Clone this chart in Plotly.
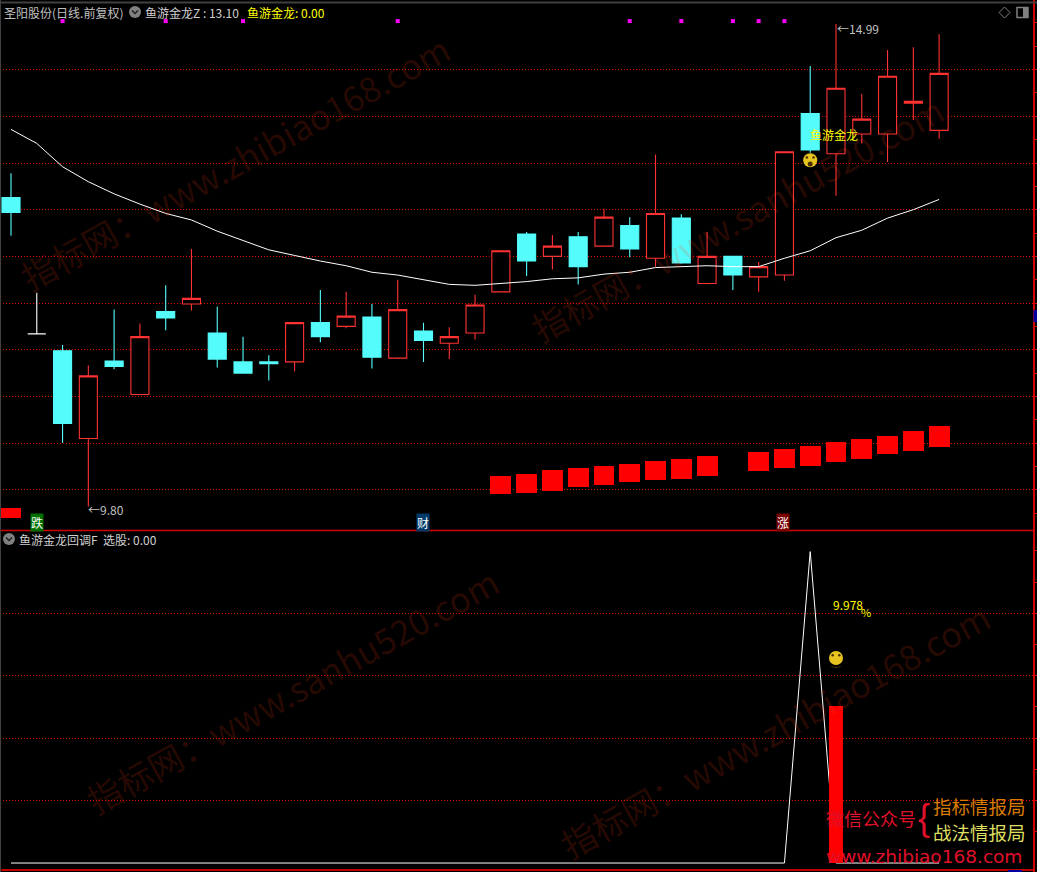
import plotly.graph_objects as go

W, H = 1037, 872
idx = list(range(37))
opens  = [13.13,11.67,11.49,10.55,11.38,11.02,11.91,11.99,11.68,11.37,11.37,11.37,11.79,11.75,11.85,11.41,11.70,11.57,11.68,12.12,12.74,12.50,12.71,12.61,12.83,12.48,12.91,12.21,12.50,12.28,12.30,14.03,13.60,13.81,13.81,14.14,13.85]
closes = [12.97,11.67,10.71,11.22,11.32,11.64,11.84,12.05,11.40,11.25,11.35,11.79,11.64,11.86,11.42,11.93,11.60,11.64,11.98,12.56,12.45,12.61,12.39,12.92,12.58,12.96,12.43,12.50,12.30,12.39,13.62,13.64,14.30,13.97,14.43,14.16,14.46]
highs  = [13.39,12.11,11.55,11.33,11.93,11.78,12.19,12.58,11.96,11.64,11.44,11.79,12.14,12.12,11.99,12.25,11.79,11.74,12.09,12.56,12.76,12.73,12.76,13.01,12.92,13.59,12.95,12.76,12.50,12.44,13.62,14.54,14.99,14.24,14.71,14.74,14.88]
lows   = [12.72,11.67,10.50,9.82,11.29,11.02,11.71,11.92,11.31,11.25,11.17,11.27,11.58,11.73,11.30,11.40,11.37,11.40,11.61,12.12,12.29,12.36,12.20,12.61,12.49,12.39,12.42,12.21,12.14,12.12,12.24,13.61,13.15,13.71,13.51,13.96,13.76]
ma_line = [13.86,13.71,13.46,13.30,13.17,13.06,12.96,12.89,12.77,12.67,12.57,12.51,12.45,12.40,12.33,12.30,12.25,12.20,12.19,12.21,12.23,12.26,12.27,12.31,12.33,12.38,12.39,12.40,12.39,12.39,12.48,12.56,12.70,12.78,12.91,13.00,13.11]

block_idx    = [0,19,20,21,22,23,24,25,26,27,29,30,31,32,33,34,35,36]
block_top    = [9.80,10.15,10.17,10.21,10.23,10.26,10.28,10.31,10.33,10.36,10.40,10.44,10.47,10.51,10.54,10.58,10.63,10.68]
block_bottom = [9.70,9.95,9.97,9.99,10.03,10.05,10.08,10.10,10.12,10.15,10.20,10.23,10.26,10.30,10.33,10.38,10.42,10.46]

flag_idx = [2,6,9,15,24,26,28,29,30]
flag_price = [15.02]*len(flag_idx)

sub_line = [0]*31 + [9.978] + [0]*5
sub_bar_idx = [32]
sub_bar_val = [5.02]

main_grid = [10,10.5,11,11.5,12,12.5,13,13.5,14,14.5]
main_minor = [9.75,10.25,10.75,11.25,11.75,12.25,12.75,13.25,13.75,14.25,14.75,15]
sub_grid = [2,4,6,8]
sub_minor = [1,3,5,7,9,10]

RED='#ff3232'; CYAN='#54fcfc'; GRID='#dc0000'; GREY='#c0c0c0'; YEL='#ffff00'
FACE='#e8c420'; FEAT='#4a3000'
FONT='Noto Sans CJK SC'
def px(x): return x/W
def py(y): return 1-y/H

fig = go.Figure()
keep = [i for i in idx if i != 1]
fig.add_trace(go.Bar(x=block_idx, y=[t-b for t,b in zip(block_top,block_bottom)], base=block_bottom,
                     width=0.81, marker=dict(color='#ff0000', line=dict(width=0)), xaxis='x', yaxis='y'))
fig.add_trace(go.Candlestick(x=keep, open=[opens[i] for i in keep], high=[highs[i] for i in keep],
    low=[lows[i] for i in keep], close=[closes[i] for i in keep], whiskerwidth=0,
    increasing=dict(line=dict(color=RED,width=1.1), fillcolor='#000000'),
    decreasing=dict(line=dict(color=CYAN,width=1.1), fillcolor=CYAN), xaxis='x', yaxis='y'))
fig.add_trace(go.Candlestick(x=[1], open=[opens[1]], high=[highs[1]], low=[lows[1]], close=[closes[1]], whiskerwidth=0,
    increasing=dict(line=dict(color='#ffffff',width=1.1), fillcolor='#ffffff'),
    decreasing=dict(line=dict(color='#ffffff',width=1.1), fillcolor='#ffffff'), xaxis='x', yaxis='y'))
fig.add_trace(go.Scatter(x=idx, y=ma_line, mode='lines', line=dict(color='#ffffff',width=1), xaxis='x', yaxis='y'))
fig.add_trace(go.Scatter(x=flag_idx, y=flag_price, mode='markers', marker=dict(symbol='square',size=4,color='#ff00ff'), xaxis='x', yaxis='y'))
# surprised face: disc, eyes, open mouth
fig.add_trace(go.Scatter(x=[31], y=[13.53], mode='markers', marker=dict(size=14,color=FACE), xaxis='x', yaxis='y'))
fig.add_trace(go.Scatter(x=[30.87,31.13], y=[13.56,13.56], mode='markers', marker=dict(size=2.5,color=FEAT), xaxis='x', yaxis='y'))
fig.add_trace(go.Scatter(x=[31], y=[13.49], mode='markers', marker=dict(size=5,color=FEAT), xaxis='x', yaxis='y'))

fig.add_trace(go.Scatter(x=idx, y=sub_line, mode='lines', line=dict(color='#ffffff',width=1), xaxis='x2', yaxis='y2'))
fig.add_trace(go.Scatter(x=[32], y=[6.57], mode='markers', marker=dict(size=14,color=FACE), xaxis='x2', yaxis='y2'))
fig.add_trace(go.Scatter(x=[31.87,32.13], y=[6.66,6.66], mode='markers', marker=dict(size=2.5,color=FEAT), xaxis='x2', yaxis='y2'))
fig.add_trace(go.Scatter(x=[32], y=[6.42], mode='text', text=['‿'], textfont=dict(size=11,color=FEAT,family='DejaVu Sans'), xaxis='x2', yaxis='y2'))
# the bar sits on its own overlaying axis pair so that it paints over the white line
fig.add_trace(go.Bar(x=sub_bar_idx, y=sub_bar_val, width=0.58, marker=dict(color='#ff0000', line=dict(width=0)), xaxis='x3', yaxis='y3'))

xr = [-0.4267, 39.63]
xdom = [0, 1032.7/W]
split = (H-530.5)/H
ax_common = dict(showgrid=False, zeroline=False, showticklabels=False, ticks='', range=xr, domain=xdom, fixedrange=True)
def yax(rng, dom, grid, minor):
    return dict(range=rng, domain=dom, side='right', tickmode='array', tickvals=grid, showticklabels=False,
        ticks='outside', ticklen=5, tickcolor='#d00000', tickwidth=1, showgrid=True, gridcolor=GRID, griddash='1px,2px', gridwidth=1,
        minor=dict(tickmode='array', tickvals=minor, ticks='outside', ticklen=5, tickcolor='#d00000', tickwidth=1, showgrid=False),
        zeroline=False, showline=True, linecolor='#d00000', linewidth=1.5, fixedrange=True)

def note(x, y, text, color=GREY, size=12, anchor='left', **kw):
    return dict(xref='paper', yref='paper', x=px(x), y=py(y), text=text, showarrow=False, xanchor=anchor, yanchor='middle',
                font=dict(family=kw.pop('family',FONT), size=size, color=color), **kw)
WM='rgba(255,60,20,0.17)'
anns = [
    note(234,162,'指标网：www.zhibiao168.com',WM,34.5,'center',textangle=-29),
    note(737,218,'指标网：www.sanhu520.com',WM,34.5,'center',textangle=-29),
    note(292,690,'指标网：www.sanhu520.com',WM,34.5,'center',textangle=-29),
    note(774,730,'指标网：www.zhibiao168.com',WM,34.5,'center',textangle=-29),
    note(2,12,'圣阳股份(日线.前复权)',GREY,12),
    note(143,12,'鱼游金龙Z : 13.10','#d0d0d0',12),
    note(245,12,'鱼游金龙: 0.00',YEL,12),
    note(17,539,'鱼游金龙回调F  选股: 0.00','#d0d0d0',12),
    note(86,509,'←9.80',GREY,12),
    note(835,28,'←14.99',GREY,12),
    note(808,134,'鱼游金龙',YEL,12),
    note(831,604,'9.978',YEL,12),
    note(859,612,'%',YEL,11),
    note(824,818,'微信公众号','#e0102a',18),
    note(916,817,'{','#e0102a',36,family='Liberation Sans'),
    note(931,806,'指标情报局','#d97a00',18.5),
    note(931,832,'战法情报局','#dede60',18.5),
    note(824,856,'www.zhibiao168.com','#e0102a',18.5,family='DejaVu Sans'),
    note(37,522,'跌','#ffffff',12,'center',bgcolor='#007000',borderpad=0),
    note(423,522,'财','#ffffff',12,'center',bgcolor='#003a6b',borderpad=0),
    note(783,522,'涨','#ffffff',12,'center',bgcolor='#7a0000',borderpad=0),
]
def rect(x0,y0,x1,y1,fill=None,line=None,w=1):
    return dict(type='rect',xref='paper',yref='paper',x0=px(x0),x1=px(x1),y0=py(y0),y1=py(y1),
                fillcolor=fill or 'rgba(0,0,0,0)',line=dict(color=line or 'rgba(0,0,0,0)',width=w))
def seg(x0,y0,x1,y1,c,w=1):
    return dict(type='line',xref='paper',yref='paper',x0=px(x0),x1=px(x1),y0=py(y0),y1=py(y1),line=dict(color=c,width=w))
def chevron(cx,cy):
    return dict(type='path',xref='paper',yref='paper',
        path=f'M {px(cx-3)} {py(cy-1.5)} L {px(cx)} {py(cy+1.5)} L {px(cx+3)} {py(cy-1.5)}',line=dict(color='#202020',width=1.5))
shapes = [
    seg(0,530.5,1033,530.5,'#d00000',1.5),
    seg(0,870,1033,870,'#c00000',2),
    seg(0,2.5,1037,2.5,'#404040',2),
    seg(0.5,0,0.5,872,'#404040',1),
    rect(1033.5,310,1037,322,'#0000a0'),
    rect(1008,870,1022,872,'#0000a0'),
    dict(type='circle',xref='paper',yref='paper',x0=px(129),x1=px(141),y0=py(6),y1=py(18),fillcolor='#808080',line=dict(width=0)),
    chevron(135,12),
    dict(type='circle',xref='paper',yref='paper',x0=px(3),x1=px(15),y0=py(533),y1=py(545),fillcolor='#808080',line=dict(width=0)),
    chevron(9,539),
    dict(type='path',xref='paper',yref='paper',
         path=f'M {px(999)} {py(12.5)} L {px(1004.5)} {py(7)} L {px(1010)} {py(12.5)} L {px(1004.5)} {py(18)} Z',
         line=dict(color='#808080',width=1)),
    rect(1017,7.5,1028,17.5,None,'#808080',1.5),
    rect(1023,8,1028,17,'#808080'),
]
sub_range=[-0.288,10.64]
sub_dom=[0,split-0.0005]
fig.update_layout(
    width=W, height=H, autosize=False, margin=dict(l=0,r=0,t=0,b=0,pad=0),
    paper_bgcolor='#000000', plot_bgcolor='rgba(0,0,0,0)', showlegend=False, boxgap=0.3, boxgroupgap=0, bargap=0,
    xaxis={**ax_common,'anchor':'y','rangeslider':dict(visible=False)},
    xaxis2={**ax_common,'anchor':'y2'},
    xaxis3={**ax_common,'anchor':'y3','overlaying':'x2'},
    yaxis=yax([9.564,15.246],[split,1],main_grid,main_minor),
    yaxis2=yax(sub_range,sub_dom,sub_grid,sub_minor),
    yaxis3=dict(range=sub_range,domain=sub_dom,anchor='x3',overlaying='y2',showgrid=False,zeroline=False,showticklabels=False,ticks='',fixedrange=True),
    annotations=anns, shapes=shapes,
    font=dict(family=FONT),
)
fig.write_html('out.html', config=dict(displayModeBar=False),
    post_script="document.body.style.margin='0';document.body.style.background='#000';document.documentElement.style.background='#000';document.body.style.overflow='hidden';")
